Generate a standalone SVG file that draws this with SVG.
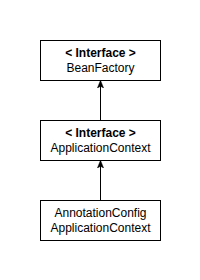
<svg xmlns="http://www.w3.org/2000/svg" width="200" height="280" viewBox="0 0 200 280">
<style>
.box{fill:#fff;stroke:#000;stroke-width:1}
text{font-family:"Liberation Sans",Arial,sans-serif;font-size:12px;fill:#000;text-anchor:middle}
.b{font-weight:bold}
.edge{stroke:#000;stroke-width:1;fill:none}
</style>
<defs>
<marker id="arr" viewBox="0 0 10 10" refX="9" refY="5" markerWidth="8" markerHeight="8" markerUnits="userSpaceOnUse" orient="auto">
<path d="M0,1 L10,5 L0,9 L2.5,5 Z" fill="#000" stroke="#000" stroke-width="0.5"/>
</marker>
</defs>
<rect width="200" height="280" fill="#fff"/>
<g id="connectors">
<path class="edge" d="M100.5,120 L100.5,81" marker-end="url(#arr)"/>
<path class="edge" d="M100.5,200 L100.5,161" marker-end="url(#arr)"/>
</g>
<g id="BeanFactory">
<rect class="box" x="40.5" y="40.5" width="120" height="40"/>
<text class="b" x="100.5" y="57">&lt; Interface &gt;</text>
<text x="100.5" y="72">BeanFactory</text>
</g>
<g id="ApplicationContext">
<rect class="box" x="40.5" y="120.5" width="120" height="40"/>
<text class="b" x="100.5" y="137">&lt; Interface &gt;</text>
<text x="100.5" y="152">ApplicationContext</text>
</g>
<g id="AnnotationConfigApplicationContext">
<rect class="box" x="40.5" y="200.5" width="120" height="40"/>
<text x="100.5" y="217">AnnotationConfig</text>
<text x="100.5" y="232">ApplicationContext</text>
</g>
</svg>
